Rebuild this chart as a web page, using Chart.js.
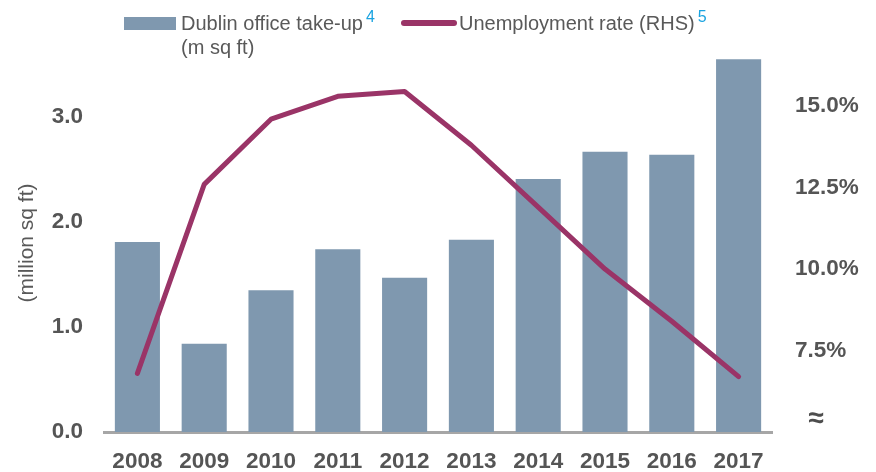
<!DOCTYPE html>
<html>
<head>
<meta charset="utf-8">
<script src="https://cdn.jsdelivr.net/npm/chart.js@4"></script>
<style>
  body { margin: 0; background: #fff; }
  #wrap { position: relative; width: 876px; height: 472px; font-family: "Liberation Sans", Arial, sans-serif; color: #595959; }
  .lg { position: absolute; font-size: 20px; line-height: 23px; white-space: nowrap; }
  .sup { color: #1aa3e0; font-size: 16px; position: relative; top: -8px; margin-left: 3px; }
</style>
</head>
<body>
<div id="wrap">
  <canvas id="myChart" width="876" height="472"></canvas>
  <div class="lg" style="left:124px;top:17px;width:52px;height:13px;background:#7f98af;"></div>
  <div class="lg" style="left:181px;top:12px;">Dublin office take-up<span class="sup">4</span><br>(m sq ft)</div>
  <div class="lg" style="left:401px;top:20px;width:56px;height:6px;border-radius:3px;background:#9a3467;"></div>
  <div class="lg" style="left:459px;top:12px;">Unemployment rate (RHS)<span class="sup">5</span></div>
</div>
<script>
// chart values
const years = ['2008', '2009', '2010', '2011', '2012', '2013', '2014', '2015', '2016', '2017'];
const takeUp = [1.81, 0.84, 1.35, 1.74, 1.47, 1.83, 2.41, 2.67, 2.64, 3.55];
const unemployment = [6.8, 12.6, 14.6, 15.3, 15.45, 13.8, 11.9, 10.0, 8.4, 6.7];
const leftTicks = [0, 1, 2, 3];
const rightTicks = [7.5, 10, 12.5, 15];

var ctx = document.getElementById('myChart').getContext('2d');

const tickFont = { family: '"Liberation Sans", Arial, sans-serif', size: 22.5, weight: 'bold' };

const breakMark = {
  id: 'breakMark',
  afterDraw(chart) {
    const c = chart.ctx;
    c.save();
    c.font = 'bold 28px "Liberation Sans", Arial, sans-serif';
    c.fillStyle = '#4d4d4d';
    c.textAlign = 'center';
    c.textBaseline = 'middle';
    c.fillText('\u2248', 816, 419);
    c.restore();
  }
};

const data = {
  labels: years,
  datasets: [
    {
      type: 'line',
      label: 'Unemployment rate (RHS)',
      data: unemployment,
      yAxisID: 'y2',
      borderColor: '#9a3467',
      borderWidth: 5,
      pointRadius: 0,
      tension: 0,
      borderCapStyle: 'round',
      borderJoinStyle: 'round',
      order: 0
    },
    {
      type: 'bar',
      label: 'Dublin office take-up',
      data: takeUp,
      yAxisID: 'y',
      backgroundColor: '#7f98af',
      barPercentage: 0.9,
      categoryPercentage: 0.75,
      order: 1
    }
  ]
};

const config = {
  data: data,
  options: {
    responsive: false,
    animation: false,
    layout: { padding: { top: 54, left: 0, right: 0, bottom: 0 } },
    plugins: {
      legend: { display: false },
      tooltip: { enabled: false }
    },
    scales: {
      x: {
        grid: { display: false, drawTicks: false },
        border: { display: true, color: '#a6a6a6', width: 3 },
        ticks: { color: '#555', font: tickFont, padding: 16, maxRotation: 0 },
        afterFit(axis) { axis.height = 40; }
      },
      y: {
        position: 'left',
        min: 0,
        max: 3.6,
        grid: { display: false, drawTicks: false },
        border: { display: false },
        afterBuildTicks(axis) { axis.ticks = leftTicks.map(v => ({ value: v })); },
        ticks: { color: '#555', font: tickFont, padding: 21, callback: v => v.toFixed(1) },
        title: {
          display: true,
          text: '(million sq ft)',
          color: '#595959',
          font: { family: '"Liberation Sans", Arial, sans-serif', size: 21 },
          padding: { top: 15, bottom: 0 }
        },
        afterFit(axis) { axis.width = 104; }
      },
      y2: {
        position: 'right',
        min: 5,
        max: 16.6,
        grid: { display: false, drawTicks: false },
        border: { display: false },
        afterBuildTicks(axis) { axis.ticks = rightTicks.map(v => ({ value: v })); },
        ticks: { color: '#555', font: tickFont, padding: 23, callback: v => v.toFixed(1) + '%' },
        afterFit(axis) { axis.width = 104; }
      }
    }
  },
  plugins: [breakMark]
};

var myChart = new Chart(ctx, config);
</script>
</body>
</html>
